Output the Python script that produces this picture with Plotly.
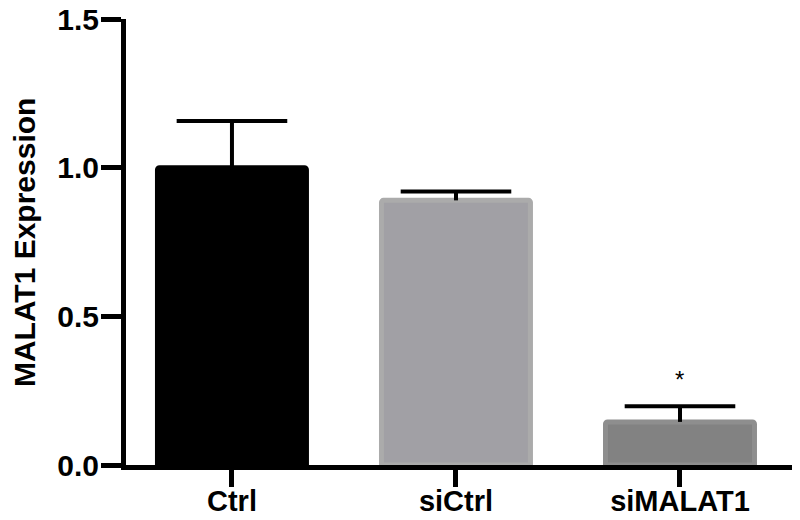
import plotly.graph_objects as go

# data
groups = ['Ctrl', 'siCtrl', 'siMALAT1']
expression = [1.0, 0.89, 0.145]
errors = [0.157, 0.03, 0.053]
fill_colors = ['#000000', '#a1a0a5', '#828282']
edge_colors = ['#000000', '#ababab', '#8e8e8e']
significance = ['', '', '*']
star_y = [0, 0, 0.34]

font_family = 'Arial, Liberation Sans, sans-serif'

fig = go.Figure()

fig.add_trace(go.Bar(
    x=groups,
    y=expression,
    width=0.665,
    marker=dict(
        color=fill_colors,
        line=dict(color=edge_colors, width=5),
        cornerradius=2,
    ),
    showlegend=False,
    hoverinfo='skip',
))

# error bars: stem only from the error tip down to the bar top, cap as a marker
tops = [v + e for v, e in zip(expression, errors)]
fig.add_trace(go.Scatter(
    x=groups,
    y=tops,
    mode='markers',
    marker=dict(symbol='line-ew', size=79, line=dict(color='black', width=4)),
    error_y=dict(
        type='data',
        array=[0, 0, 0],
        arrayminus=errors,
        symmetric=False,
        color='black',
        thickness=4,
        width=0,
    ),
    showlegend=False,
))

# significance marks
for g, s, yv in zip(groups, significance, star_y):
    if s:
        fig.add_annotation(
            x=g, y=yv, text=s, showarrow=False,
            font=dict(family=font_family, size=24, color='black'),
            yanchor='top',
        )

# y axis title placed by hand
fig.add_annotation(
    xref='paper', yref='paper',
    x=-0.153, y=0.5,
    text='<b>MALAT1 Expression</b>',
    textangle=-90, showarrow=False,
    font=dict(family=font_family, size=30, color='black'),
    xanchor='center', yanchor='middle',
)

# page body has an 8px margin, so the figure is sized/offset to compensate
fig.update_layout(
    width=792,
    height=512,
    margin=dict(l=118, r=8, t=11, b=55),
    plot_bgcolor='white',
    paper_bgcolor='white',
    font=dict(family=font_family, color='black'),
)

fig.update_xaxes(
    range=[-0.473, 2.5],
    automargin=False,
    showline=True, linecolor='black', linewidth=5,
    ticks='outside', ticklen=17, tickwidth=5, tickcolor='black',
    tickfont=dict(family=font_family, size=29, color='black', weight='bold'),
    ticklabelstandoff=-11,
    ticklabeloverflow='allow',
    showgrid=False, zeroline=False,
)

fig.update_yaxes(
    range=[0, 1.5],
    automargin=False,
    tickvals=[0, 0.5, 1.0, 1.5],
    ticktext=['0.0', '0.5', '1.0', '1.5'],
    showline=True, linecolor='black', linewidth=5,
    ticks='outside', ticklen=20, tickwidth=5, tickcolor='black',
    tickfont=dict(family=font_family, size=30, color='black', weight='bold'),
    ticklabelstandoff=-4,
    ticklabeloverflow='allow',
    showgrid=False, zeroline=False,
)

fig.write_html("out.html")
